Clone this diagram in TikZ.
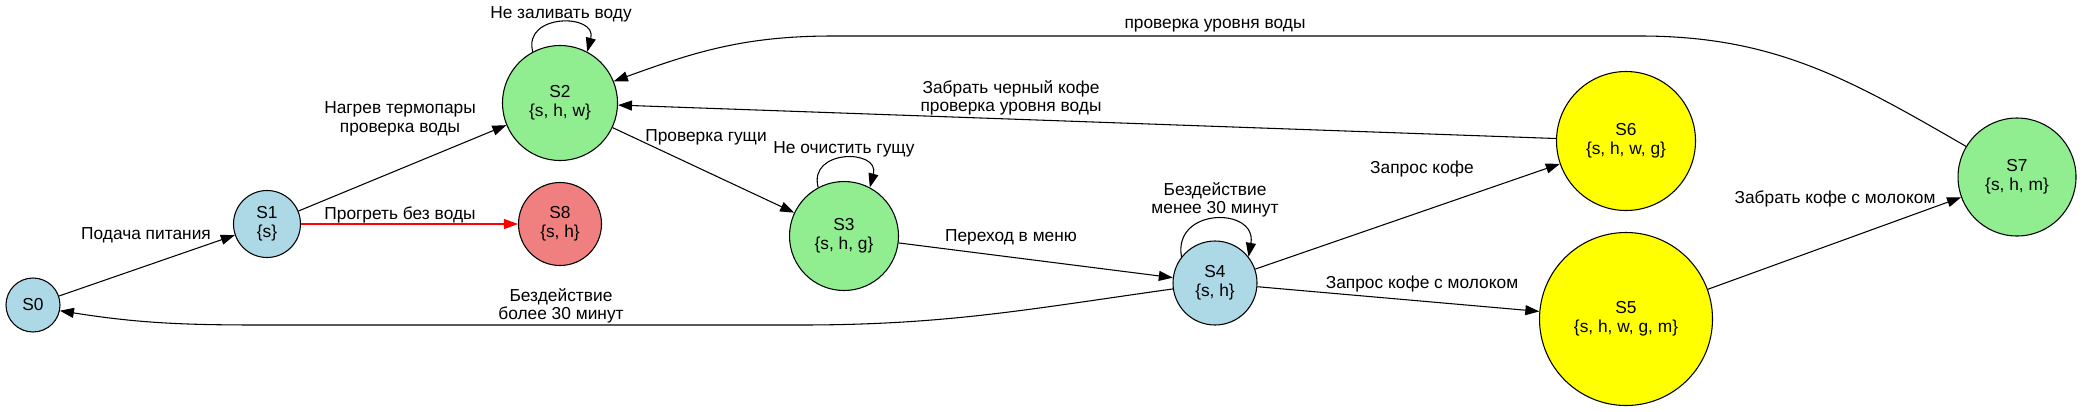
\documentclass[tikz,border=0pt]{standalone}
\usepackage{fontspec}
\setmainfont{Liberation Sans}
\usepackage{xcolor}
\usetikzlibrary{arrows.meta}

\definecolor{stblue}{HTML}{ADD8E6}
\definecolor{stgreen}{HTML}{90EE90}
\definecolor{stcoral}{HTML}{F08080}
\definecolor{styellow}{HTML}{FFFF00}

\begin{document}
\begin{tikzpicture}[x=0.75pt, y=0.75pt,
        stnode/.style={circle, draw, line width=0.8pt, inner sep=0pt, align=center, font=\fontsize{13}{14}\selectfont},
        trans/.style={-{Triangle[length=10.5pt, width=7.5pt]}, line width=0.8pt},
        tlabel/.style={align=center, inner sep=0pt, font=\fontsize{13}{14}\selectfont}]
        \useasboundingbox (0,0) rectangle (2083,-411);
        % States
        \node[stnode, fill=stblue, minimum size=40.5pt] (S0) at (33,-305) {S0};
        \node[stnode, fill=stblue, minimum size=50.25pt] (S1) at (267,-224) {S1\\\{s\}};
        \node[stnode, fill=stgreen, minimum size=86.25pt] (S2) at (560,-103) {S2\\\{s, h, w\}};
        \node[stnode, fill=stcoral, minimum size=62.25pt] (S8) at (560,-224) {S8\\\{s, h\}};
        \node[stnode, fill=stgreen, minimum size=81.75pt] (S3) at (844,-236) {S3\\\{s, h, g\}};
        \node[stnode, fill=stblue, minimum size=63pt] (S4) at (1215,-283) {S4\\\{s, h\}};
        \node[stnode, fill=styellow, minimum size=104.25pt] (S6) at (1626,-141) {S6\\\{s, h, w, g\}};
        \node[stnode, fill=styellow, minimum size=129.75pt] (S5) at (1626,-319) {S5\\\{s, h, w, g, m\}};
        \node[stnode, fill=stgreen, minimum size=88.5pt] (S7) at (2017,-177) {S7\\\{s, h, m\}};
        % Bend points of the long curves
        \coordinate (lowR) at (800,-325);
        \coordinate (lowL) at (260,-325);
        \coordinate (topR) at (1640,-36);
        \coordinate (topL) at (833,-36);
        % Transitions
        \draw[trans] (S0) -- (S1);
        \draw[trans] (S1) -- (S2);
        \draw[trans, red] (S1) -- (S8);
        \draw[trans] (S2.118) .. controls +(105:30pt) and +(75:30pt) .. (S2.62);
        \draw[trans] (S2) -- (S3);
        \draw[trans] (S3.118) .. controls +(105:30pt) and +(75:30pt) .. (S3.62);
        \draw[trans] (S3) -- (S4);
        \draw[trans] (S4.142) .. controls +(100:38pt) and +(80:38pt) .. (S4.38);
        \draw[trans] (S4.188) to[out=188, in=0] (lowR) -- (lowL) to[out=180, in=-9] (S0.-12);
        \draw[trans] (S4) -- (S6);
        \draw[trans] (S4) -- (S5);
        \draw[trans] (S6) -- (S2);
        \draw[trans] (S5) -- (S7);
        \draw[trans] (S7.149) to[out=150, in=0] (topR) -- (topL) to[out=180, in=20] (S2.22);
        % Labels
        \node[tlabel] (lPower) at (146,-235) {Подача питания};
        \node[tlabel] (lHeat) at (400,-119) {Нагрев термопары\\проверка воды};
        \node[tlabel] (lWarm) at (400,-215) {Прогреть без воды};
        \node[tlabel] (lNoWater) at (561,-14) {Не заливать воду};
        \node[tlabel] (lGrounds) at (706,-137) {Проверка гущи};
        \node[tlabel] (lNoClean) at (844,-149) {Не очистить гущу};
        \node[tlabel] (lMenu) at (1011,-237) {Переход в меню};
        \node[tlabel] (lIdleLess) at (1215,-200) {Бездействие\\менее 30 минут};
        \node[tlabel] (lIdleMore) at (561,-306) {Бездействие\\более 30 минут};
        \node[tlabel] (lCoffee) at (1422,-169) {Запрос кофе};
        \node[tlabel] (lMilk) at (1422,-284) {Запрос кофе с молоком};
        \node[tlabel] (lBlack) at (1011,-98) {Забрать черный кофе\\проверка уровня воды};
        \node[tlabel] (lTakeMilk) at (1835,-199) {Забрать кофе с молоком};
        \node[tlabel] (lLevel) at (1215,-26) {проверка уровня воды};
\end{tikzpicture}
\end{document}
